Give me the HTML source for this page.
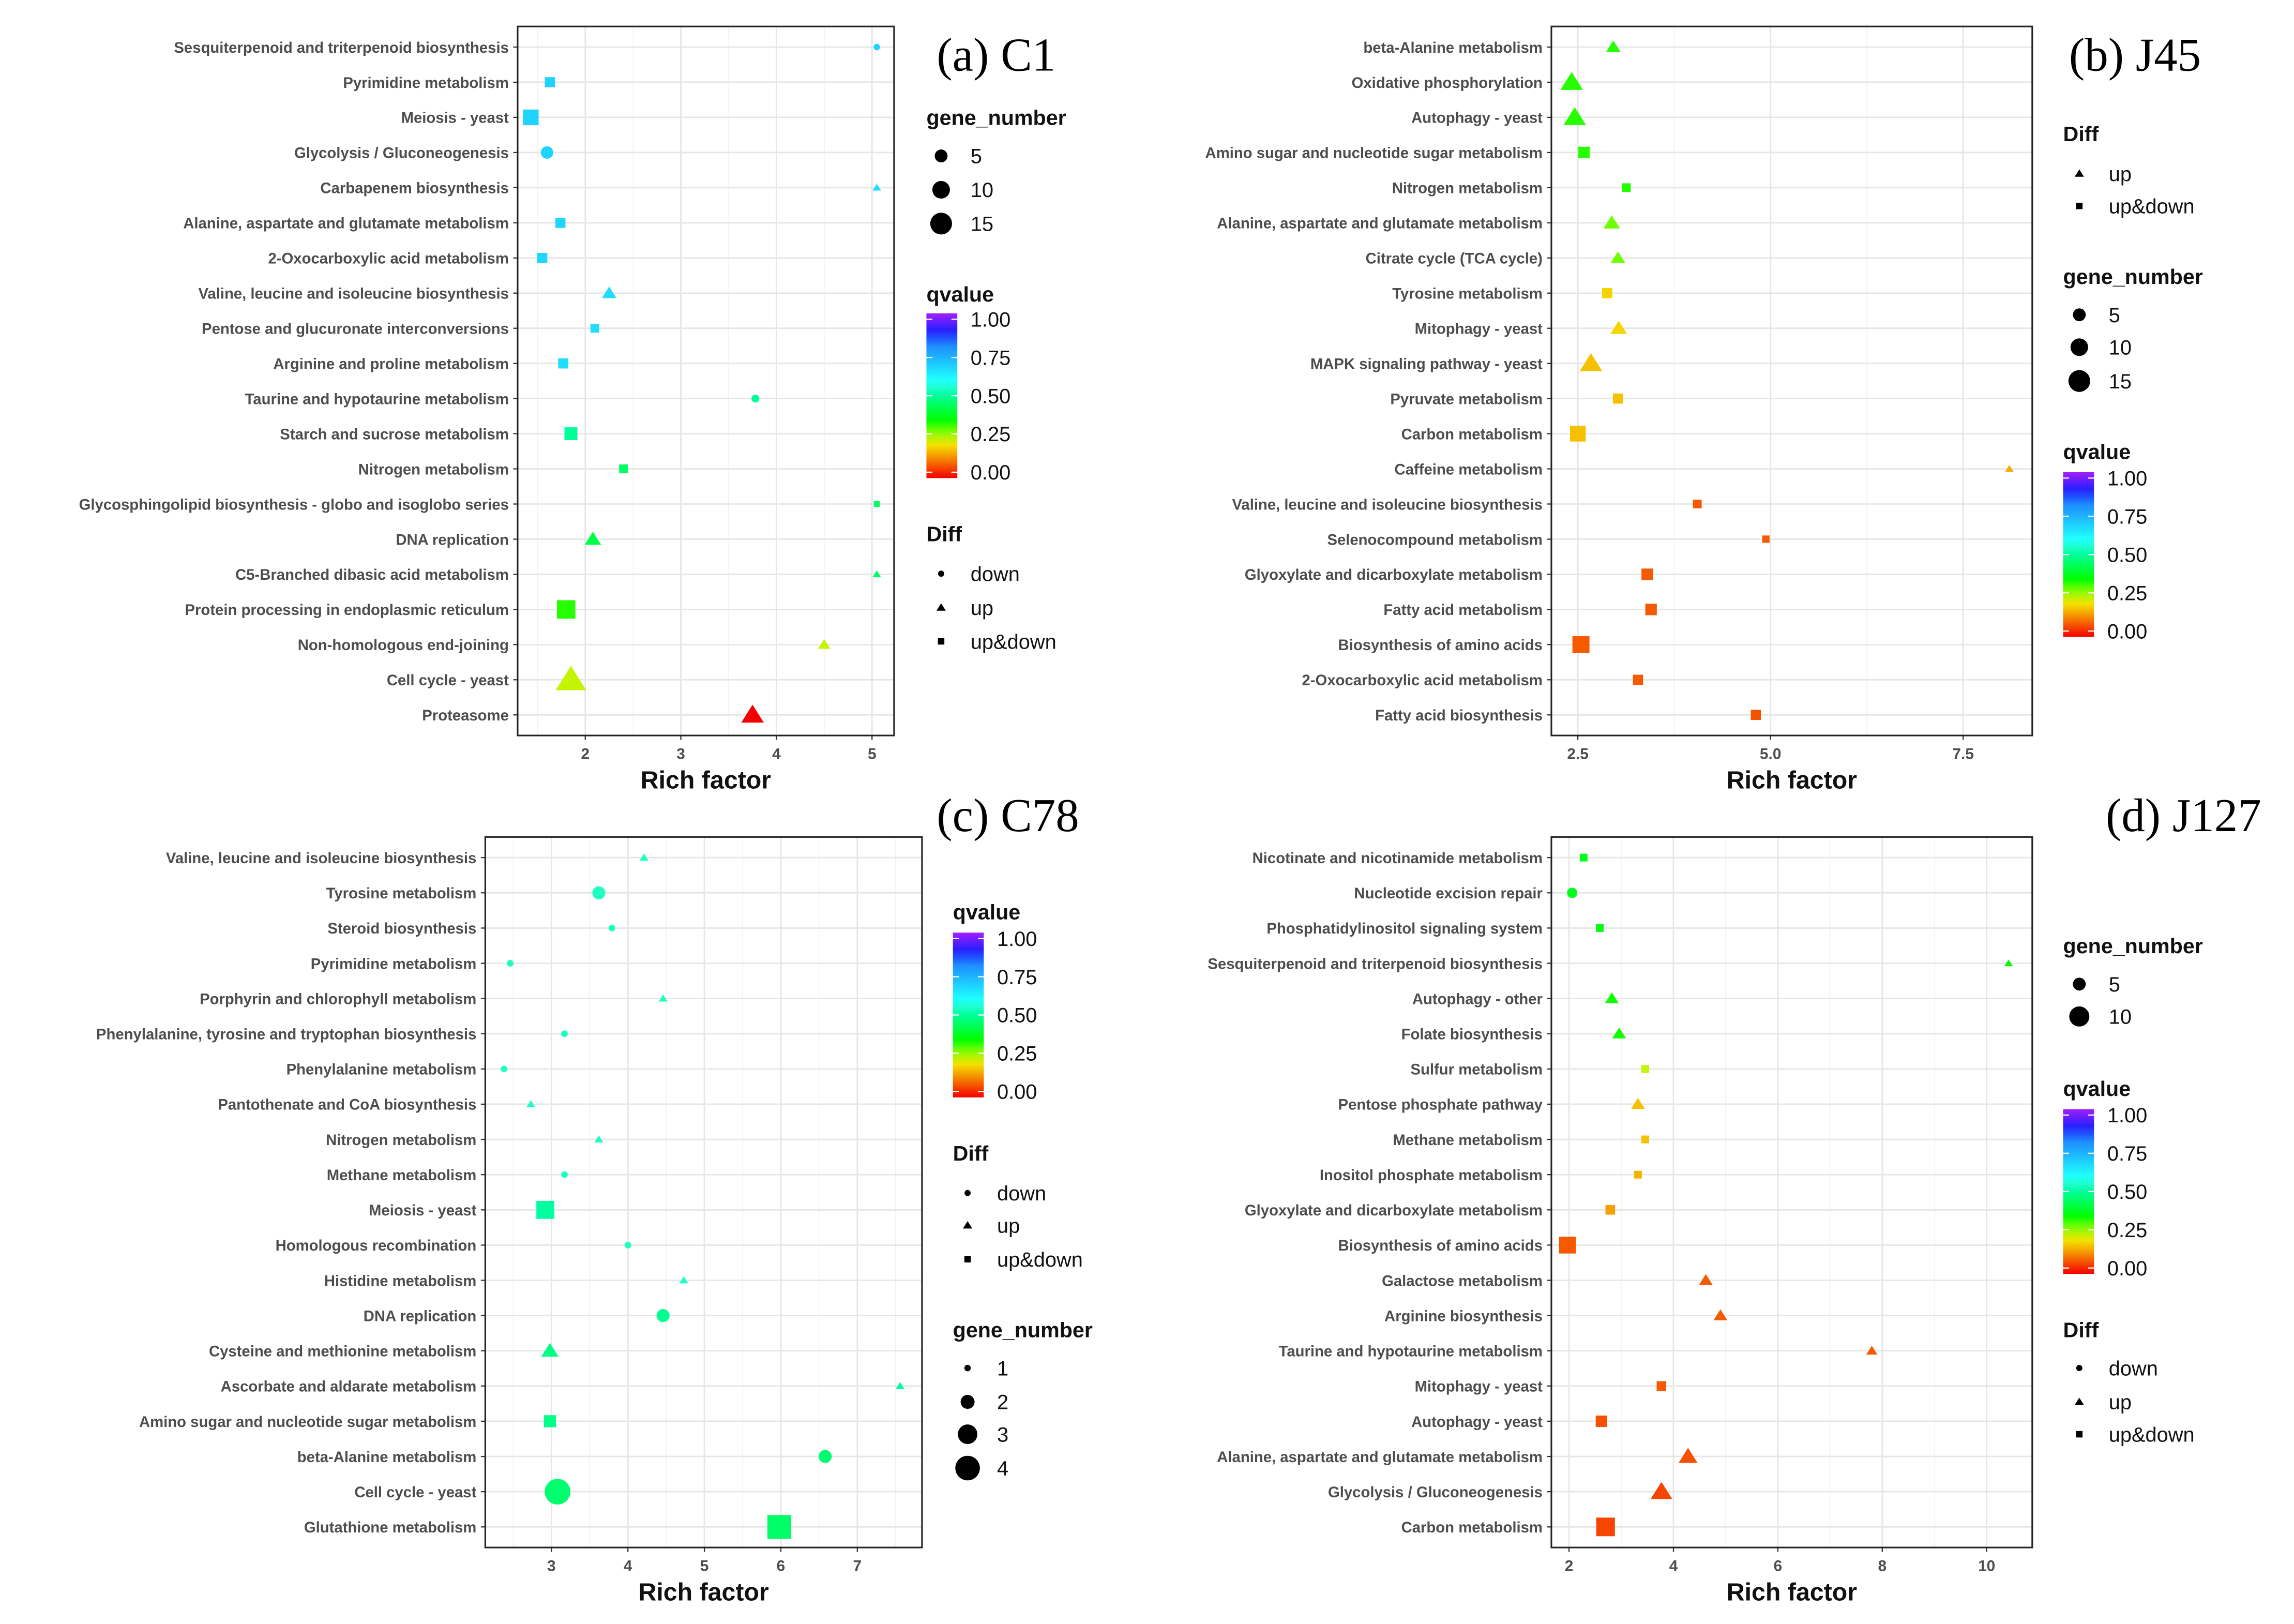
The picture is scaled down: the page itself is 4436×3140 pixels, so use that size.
<!DOCTYPE html>
<html><head><meta charset="utf-8"><style>
html,body{margin:0;padding:0;background:#fff;}
svg{display:block;}
</style></head><body>
<svg id="fig" width="4436" height="3140" viewBox="0 0 1560 1104" preserveAspectRatio="none" xmlns="http://www.w3.org/2000/svg"></svg>
<script>
// ---- Panel (a) C1 data ----
const aTerms=["Sesquiterpenoid and triterpenoid biosynthesis","Pyrimidine metabolism","Meiosis - yeast","Glycolysis / Gluconeogenesis","Carbapenem biosynthesis","Alanine, aspartate and glutamate metabolism","2-Oxocarboxylic acid metabolism","Valine, leucine and isoleucine biosynthesis","Pentose and glucuronate interconversions","Arginine and proline metabolism","Taurine and hypotaurine metabolism","Starch and sucrose metabolism","Nitrogen metabolism","Glycosphingolipid biosynthesis - globo and isoglobo series","DNA replication","C5-Branched dibasic acid metabolism","Protein processing in endoplasmic reticulum","Non-homologous end-joining","Cell cycle - yeast","Proteasome"];
const aRich=[5.05,1.63,1.43,1.6,5.05,1.74,1.55,2.25,2.1,1.77,3.78,1.85,2.4,5.05,2.08,5.05,1.8,4.5,1.85,3.75];
const aShape=["c","s","s","c","t","s","s","t","s","s","c","s","s","s","t","t","s","t","t","t"];
const aQ=[0.68,0.68,0.68,0.68,0.66,0.67,0.67,0.66,0.66,0.66,0.5,0.5,0.45,0.45,0.42,0.45,0.33,0.24,0.24,0.0];
const aGenes=[1,4,8,5,1,4,4,4,3,4,2,6,3,1,5,1,10,3,12,8];
const aTicks=[2,3,4,5];
// ---- Panel (b) J45 data ----
const bTerms=["beta-Alanine metabolism","Oxidative phosphorylation","Autophagy - yeast","Amino sugar and nucleotide sugar metabolism","Nitrogen metabolism","Alanine, aspartate and glutamate metabolism","Citrate cycle (TCA cycle)","Tyrosine metabolism","Mitophagy - yeast","MAPK signaling pathway - yeast","Pyruvate metabolism","Carbon metabolism","Caffeine metabolism","Valine, leucine and isoleucine biosynthesis","Selenocompound metabolism","Glyoxylate and dicarboxylate metabolism","Fatty acid metabolism","Biosynthesis of amino acids","2-Oxocarboxylic acid metabolism","Fatty acid biosynthesis"];
const bRich=[2.96,2.42,2.46,2.58,3.13,2.94,3.02,2.88,3.03,2.67,3.02,2.5,8.1,4.05,4.94,3.4,3.45,2.54,3.28,4.81];
const bShape=["t","t","t","s","s","t","t","s","t","t","s","s","t","s","s","s","s","s","s","s"];
const bQ=[0.33,0.33,0.33,0.33,0.33,0.29,0.29,0.19,0.19,0.17,0.17,0.17,0.15,0.08,0.08,0.08,0.08,0.08,0.08,0.07];
const bGenes=[4,8,8,5,3,5,4,4,5,8,4,8,1,3,2,5,5,9,4,4];
const bTicks=[2.5,5.0,7.5];
// ---- Panel (c) C78 data ----
const cTerms=["Valine, leucine and isoleucine biosynthesis","Tyrosine metabolism","Steroid biosynthesis","Pyrimidine metabolism","Porphyrin and chlorophyll metabolism","Phenylalanine, tyrosine and tryptophan biosynthesis","Phenylalanine metabolism","Pantothenate and CoA biosynthesis","Nitrogen metabolism","Methane metabolism","Meiosis - yeast","Homologous recombination","Histidine metabolism","DNA replication","Cysteine and methionine metabolism","Ascorbate and aldarate metabolism","Amino sugar and nucleotide sugar metabolism","beta-Alanine metabolism","Cell cycle - yeast","Glutathione metabolism"];
const cRich=[4.21,3.62,3.79,2.46,4.46,3.17,2.38,2.73,3.62,3.17,2.92,4.0,4.73,4.46,2.98,7.56,2.98,6.58,3.08,5.98];
const cShape=["t","c","c","c","t","c","c","t","t","c","s","c","t","c","t","t","s","c","c","s"];
const cQ=[0.53,0.53,0.53,0.53,0.53,0.53,0.53,0.53,0.53,0.53,0.51,0.53,0.53,0.49,0.48,0.51,0.48,0.46,0.46,0.45];
const cGenes=[1,2,1,1,1,1,1,1,1,1,3,1,1,2,2,1,2,2,4,4];
const cTicks=[3,4,5,6,7];
// ---- Panel (d) J127 data ----
const dTerms=["Nicotinate and nicotinamide metabolism","Nucleotide excision repair","Phosphatidylinositol signaling system","Sesquiterpenoid and triterpenoid biosynthesis","Autophagy - other","Folate biosynthesis","Sulfur metabolism","Pentose phosphate pathway","Methane metabolism","Inositol phosphate metabolism","Glyoxylate and dicarboxylate metabolism","Biosynthesis of amino acids","Galactose metabolism","Arginine biosynthesis","Taurine and hypotaurine metabolism","Mitophagy - yeast","Autophagy - yeast","Alanine, aspartate and glutamate metabolism","Glycolysis / Gluconeogenesis","Carbon metabolism"];
const dRich=[2.28,2.06,2.59,10.42,2.82,2.96,3.46,3.32,3.46,3.32,2.79,1.97,4.62,4.9,7.8,3.77,2.62,4.28,3.77,2.7];
const dShape=["s","c","s","t","t","t","s","t","s","s","s","s","t","t","t","s","s","t","t","s"];
const dQ=[0.38,0.38,0.37,0.35,0.34,0.34,0.24,0.17,0.17,0.16,0.14,0.08,0.08,0.08,0.08,0.08,0.07,0.07,0.06,0.06];
const dGenes=[2,3,2,1,3,3,2,3,2,2,3,7,3,3,2,3,4,5,6,8];
const dTicks=[2,4,6,8,10];

const NS="http://www.w3.org/2000/svg";
const svg=document.getElementById('fig');
function mk(tag,attrs,parent){const e=document.createElementNS(NS,tag);for(const k in attrs)e.setAttribute(k,attrs[k]);(parent||svg).appendChild(e);return e;}
function txt(s,attrs,parent){const e=mk('text',attrs,parent);e.textContent=s;return e;}
const hueStops=[[0,0],[0.1,28],[0.2,55],[0.35,120],[0.6,180],[0.8,210],[1,275]];
function qColor(q){for(let i=1;i<hueStops.length;i++){if(q<=hueStops[i][0]){const a=hueStops[i-1],b=hueStops[i];const h=a[1]+(b[1]-a[1])*(q-a[0])/(b[0]-a[0]);return 'hsl('+h.toFixed(0)+',100%,'+(h>160?56:(h>90?50:48))+'%)';}}return 'hsl(275,100%,60%)';}
function drawMark(g,shape,cx,cy,r,fill){
  if(shape==='c')return mk('circle',{cx:cx,cy:cy,r:r*0.95,fill:fill},g);
  if(shape==='s'){const h=r*0.88;return mk('rect',{x:cx-h,y:cy-h,width:2*h,height:2*h,fill:fill},g);}
  const h=r*1.15;return mk('polygon',{points:(cx)+','+(cy-h)+' '+(cx-h*1.1)+','+(cy+h*0.75)+' '+(cx+h*1.1)+','+(cy+h*0.75),fill:fill},g);
}
function panel(cfg){
  const g=mk('g',{});
  
  
  const {x0,x1,y0,y1,xmin,xmax}=cfg;
  const sx=v=>x0+(v-xmin)/(xmax-xmin)*(x1-x0);
  const n=cfg.terms.length;
  const rowTop=y0+14,rowBot=y1-14;
  const sy=i=>rowTop+i*(rowBot-rowTop)/(n-1);
  mk('rect',{x:x0,y:y0,width:x1-x0,height:y1-y0,fill:'#fff'},g);
  for(let k=0;k<cfg.ticks.length+1;k++){
    const step=cfg.ticks[1]-cfg.ticks[0];const v=cfg.ticks[0]-step/2+k*step;
    if(sx(v)>x0&&sx(v)<x1)mk('line',{x1:sx(v),x2:sx(v),y1:y0,y2:y1,stroke:'#f2f2f2','stroke-width':0.6},g);
  }
  cfg.ticks.forEach(v=>{
    const gl=mk('line',{x1:sx(v),x2:sx(v),y1:y0,y2:y1,stroke:'#e6e6e6','stroke-width':1},g);
    
    
    mk('line',{x1:sx(v),x2:sx(v),y1:y1,y2:y1+3,stroke:'#333','stroke-width':0.8},g);
    const t=txt(cfg.tickFmt(v),{x:sx(v),y:y1+16,'font-size':10.5,'font-family':'Liberation Sans, sans-serif','font-weight':'bold',fill:'#4d4d4d','text-anchor':'middle'},g);
    
    
  });
  cfg.terms.forEach((term,i)=>{
    const y=sy(i);
    mk('line',{x1:x0,x2:x1,y1:y,y2:y,stroke:'#e6e6e6','stroke-width':1},g);
    mk('line',{x1:x0-3,x2:x0,y1:y,y2:y,stroke:'#333','stroke-width':0.8},g);
    const t=txt(term,{x:x0-6,y:y+3.8,'font-size':10.3,'font-family':'Liberation Sans, sans-serif','font-weight':'bold',fill:'#4d4d4d','text-anchor':'end'},g);
    
    
  });
  cfg.terms.forEach((term,i)=>{
    const r=cfg.rScale(cfg.genes[i]);
    const m=drawMark(g,cfg.shape[i],sx(cfg.rich[i]),sy(i),r,qColor(cfg.q[i]));
    
    
  });
  mk('rect',{x:x0,y:y0,width:x1-x0,height:y1-y0,fill:'none',stroke:'#222','stroke-width':1.1},g);
  const xt=txt('Rich factor',{x:(x0+x1)/2,y:y1+36,'font-size':17,'font-family':'Liberation Sans, sans-serif','font-weight':'bold',fill:'#111','text-anchor':'middle'},g);
  
  
  return g;
}
function rLin(nmin,nmax,rmin,rmax){return n=>rmin+(rmax-rmin)*(n-nmin)/(nmax-nmin);}
const fmt0=v=>String(v), fmt1=v=>v.toFixed(1);
panel({name:'panel-a-c1',x0:352,x1:608,y0:18,y1:500,xmin:2-(398-352)/65,xmax:2+(608-398)/65,terms:aTerms,rich:aRich,shape:aShape,q:aQ,genes:aGenes,ticks:aTicks,tickFmt:fmt0,rScale:rLin(1,15,2.3,9.8)});
panel({name:'panel-b-j45',x0:1055,x1:1382,y0:18,y1:500,xmin:2.5-(1073-1055)/52.4,xmax:2.5+(1382-1073)/52.4,terms:bTerms,rich:bRich,shape:bShape,q:bQ,genes:bGenes,ticks:bTicks,tickFmt:fmt1,rScale:rLin(1,15,2.3,9.8)});
panel({name:'panel-c-c78',x0:330,x1:627,y0:569,y1:1052,xmin:3-(375-330)/52,xmax:3+(627-375)/52,terms:cTerms,rich:cRich,shape:cShape,q:cQ,genes:cGenes,ticks:cTicks,tickFmt:fmt0,rScale:rLin(1,4,2.4,9.2)});
panel({name:'panel-d-j127',x0:1055,x1:1382,y0:569,y1:1052,xmin:2-(1067-1055)/35.5,xmax:2+(1382-1067)/35.5,terms:dTerms,rich:dRich,shape:dShape,q:dQ,genes:dGenes,ticks:dTicks,tickFmt:fmt0,rScale:rLin(1,10,2.3,8.6)});

const defs=mk('defs',{});
const lg=mk('linearGradient',{id:'qgrad',x1:0,y1:1,x2:0,y2:0},defs);
for(let i=0;i<=20;i++){mk('stop',{offset:(i/20),'stop-color':qColor(i/20)},lg);}
function title(s,x,y,size,name){const t=txt(s,{x:x,y:y,'font-size':size,'font-family':'Liberation Serif, serif',fill:'#000'});}
function lgTitle(s,x,y){const t=txt(s,{x:x,y:y,'font-size':14.5,'font-family':'Liberation Sans, sans-serif','font-weight':'bold',fill:'#111'});}
function lgItem(s,sym,r,sxp,tx,y){const g=mk('g',{});drawMark(g,sym,sxp,y,r,'#000');txt(s,{x:tx,y:y+5,'font-size':14,'font-family':'Liberation Sans, sans-serif',fill:'#111'},g);}
function colorbar(x,y){const g=mk('g',{});
  mk('rect',{x:x,y:y,width:21,height:112,fill:'url(#qgrad)'},g);
  ['1.00','0.75','0.50','0.25','0.00'].forEach((l,i)=>{const yy=y+4+i*26;mk('line',{x1:x,x2:x+4,y1:yy,y2:yy,stroke:'#fff','stroke-width':0.8},g);mk('line',{x1:x+17,x2:x+21,y1:yy,y2:yy,stroke:'#fff','stroke-width':0.8},g);txt(l,{x:x+30,y:yy+5,'font-size':14,'font-family':'Liberation Sans, sans-serif',fill:'#111'},g);});}
title('(a)  C1',637,48,32,'panel-a-title');
lgTitle('gene_number',630,85);
lgItem('5','c',4.6,640,660,106);lgItem('10','c',6.3,640,660,129);lgItem('15','c',7.8,640,660,152);
lgTitle('qvalue',630,205);colorbar(630,213);
lgTitle('Diff',630,368);
lgItem('down','c',2.2,640,660,390);lgItem('up','t',2.5,640,660,413);lgItem('up&down','s',2.5,640,660,436);
title('(b) J45',1407,48,32,'panel-b-title');
lgTitle('Diff',1403,96);
lgItem('up','t',2.5,1414,1434,118);lgItem('up&down','s',2.5,1414,1434,140);
lgTitle('gene_number',1403,193);
lgItem('5','c',4.6,1414,1434,214);lgItem('10','c',6.3,1414,1434,236);lgItem('15','c',7.8,1414,1434,259);
lgTitle('qvalue',1403,312);colorbar(1403,321);
title('(c) C78',637,565,32,'panel-c-title');
lgTitle('qvalue',648,625);colorbar(648,634);
lgTitle('Diff',648,789);
lgItem('down','c',2.2,658,678,811);lgItem('up','t',2.5,658,678,833);lgItem('up&down','s',2.5,658,678,856);
lgTitle('gene_number',648,909);
lgItem('1','c',2.3,658,678,930);lgItem('2','c',5,658,678,953);lgItem('3','c',7,658,678,975);lgItem('4','c',8.8,658,678,998);
title('(d) J127',1432,565,32,'panel-d-title');
lgTitle('gene_number',1403,648);
lgItem('5','c',4.6,1414,1434,669);lgItem('10','c',7.2,1414,1434,691);
lgTitle('qvalue',1403,745);colorbar(1403,754);
lgTitle('Diff',1403,909);
lgItem('down','c',2.2,1414,1434,930);lgItem('up','t',2.5,1414,1434,953);lgItem('up&down','s',2.5,1414,1434,975);
</script>
</body></html>
